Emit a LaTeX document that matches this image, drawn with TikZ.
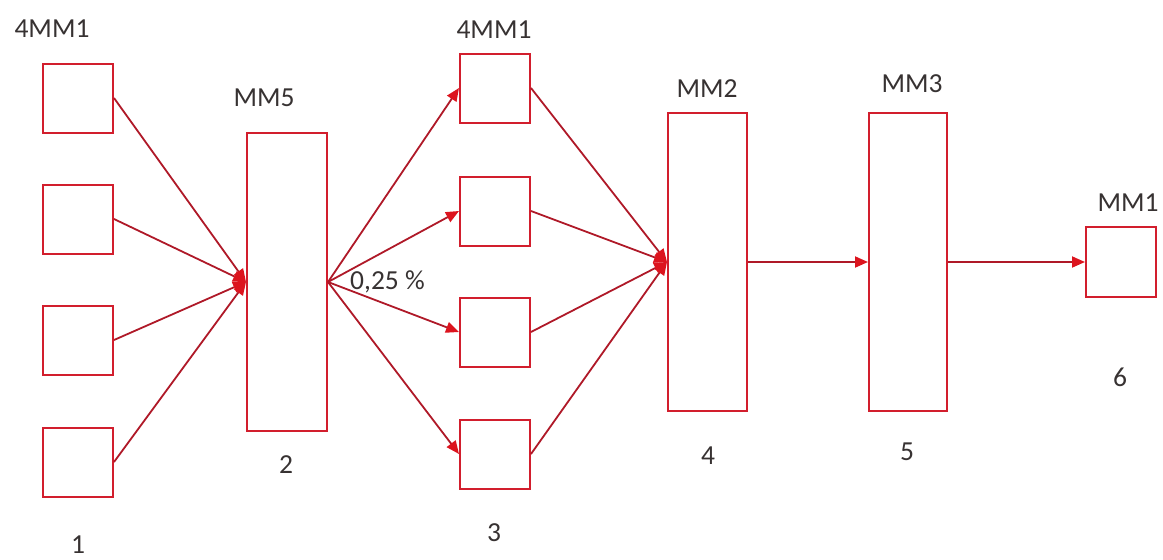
\documentclass[tikz,border=0pt]{standalone}
\usepackage{fontspec}
\setmainfont{Carlito}
\usetikzlibrary{arrows.meta}
\definecolor{boxred}{RGB}{210,30,45}
\definecolor{linered}{RGB}{175,25,40}
\definecolor{headred}{RGB}{220,20,30}
\definecolor{txt}{RGB}{55,50,50}
\tikzset{
  box/.style={draw=boxred, line width=2pt, inner sep=0pt, fill=white},
  sq/.style={box, minimum width=70pt, minimum height=69pt},
  tall/.style={box, minimum width=79pt, minimum height=298pt},
  lbl/.style={text=txt, font=\fontsize{27.5}{31}\selectfont, inner sep=0pt},
  conn/.style={draw=linered, line width=1.8pt, -{Triangle[length=13pt,width=11pt,color=headred]}}
}
\begin{document}
\begin{tikzpicture}[x=1pt,y=-1pt]
\useasboundingbox (0,0) rectangle (1163,560);
% column 1
\node[sq] (a1) at (78,98) {};
\node[sq] (a2) at (78,219) {};
\node[sq] (a3) at (78,340) {};
\node[sq] (a4) at (78,462) {};
% MM5
\node[tall, minimum width=80pt] (m5) at (287,282) {};
% column 3
\node[sq] (b1) at (495,88) {};
\node[sq] (b2) at (495,211) {};
\node[sq] (b3) at (495,332) {};
\node[sq] (b4) at (495,454) {};
% MM2, MM3, MM1
\node[tall] (m2) at (707.5,262) {};
\node[tall, minimum width=78pt] (m3) at (908,262) {};
\node[sq, minimum height=70pt] (m1) at (1121,262) {};
% connectors
\foreach \n in {a1,a2,a3,a4} \draw[conn] (\n.east) -- (m5.west);
\foreach \n in {b1,b2,b3,b4} \draw[conn] (m5.east) -- (\n.west);
\foreach \n in {b1,b2,b3,b4} \draw[conn] (\n.east) -- (m2.west);
\draw[conn] (m2.east) -- (m3.west);
\draw[conn] (m3.east) -- (m1.west);
% labels
\node[lbl] (t1) at (52,29) {4MM1};
\node[lbl] (t2) at (264,98) {MM5};
\node[lbl] (t3) at (494,30) {4MM1};
\node[lbl] (t4) at (707,89) {MM2};
\node[lbl] (t5) at (912,84) {MM3};
\node[lbl] (t6) at (1128,203) {MM1};
\node[lbl, anchor=west] (pct) at (350,282) {0,25 \%};
\node[lbl] (n1) at (78,545) {1};
\node[lbl] (n2) at (286,465) {2};
\node[lbl] (n3) at (494,533) {3};
\node[lbl] (n4) at (708,456) {4};
\node[lbl] (n5) at (907,452) {5};
\node[lbl] (n6) at (1120,377) {6};
\end{tikzpicture}
\end{document}
